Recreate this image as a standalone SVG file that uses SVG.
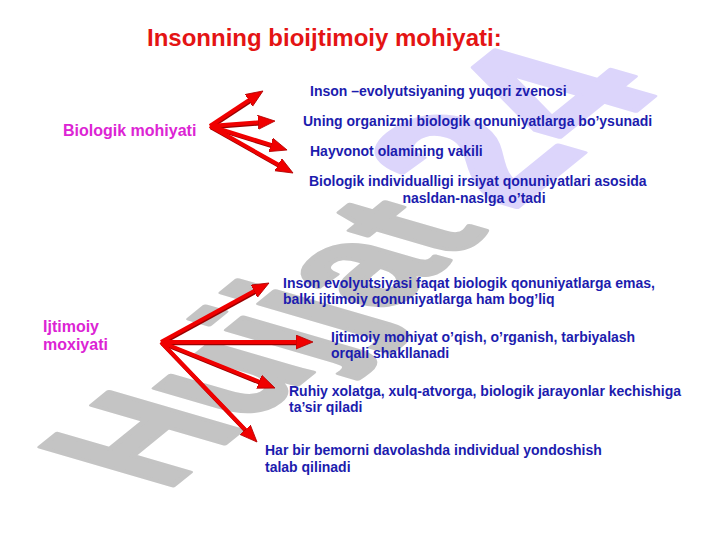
<svg xmlns="http://www.w3.org/2000/svg" width="720" height="540" viewBox="0 0 720 540">
<style>
.t{font-family:"Liberation Sans",Arial,sans-serif;font-weight:bold}
.title{font-size:24px;fill:#e41414}
.pink{font-size:16px;fill:#dc24d4}
.blue{font-size:14px;fill:#1c1cae}
.arr{stroke:#f00000;stroke-width:4;fill:none;marker-end:url(#ah)}
.sh{stroke:#9a0000;stroke-width:4;fill:none}
.wm{font-family:"Liberation Sans",Arial,sans-serif;font-weight:bold;font-size:100px;stroke-width:3;stroke-linejoin:round}
.wg{fill:#c4c4c4;stroke:#c4c4c4}
.wl{fill:#dcd5fb;stroke:#dcd5fb;font-size:120px}
</style>
<defs>
<marker id="ah" markerUnits="userSpaceOnUse" markerWidth="20" markerHeight="16" refX="7" refY="7" orient="auto">
<path d="M0,0 L17,7 L0,14 Z" fill="#f00000" stroke="#b00000" stroke-width="0.8"/>
</marker>
</defs>
<rect width="720" height="540" fill="#ffffff"/>
<g id="watermark" transform="matrix(1.166,-0.944,1.92,0.56,165,492)">
<text class="wm" x="0" y="0"><tspan class="wg">Hujjat </tspan><tspan class="wl" dx="-8">24</tspan></text>
</g>
<text class="t title" x="147" y="46">Insonning bioijtimoiy mohiyati:</text>
<g id="connectors">
<g transform="translate(0.8,1.2)">
<line class="sh" x1="210" y1="126" x2="254.6" y2="96.5"/>
<line class="sh" x1="210" y1="126" x2="265" y2="121.8"/>
<line class="sh" x1="210" y1="126" x2="277.5" y2="147"/>
<line class="sh" x1="210" y1="126" x2="284.3" y2="168.1"/>
<line class="sh" x1="161" y1="342" x2="260.2" y2="287.8"/>
<line class="sh" x1="161" y1="342" x2="303" y2="342"/>
<line class="sh" x1="161" y1="342" x2="265.7" y2="384.3"/>
<line class="sh" x1="161" y1="342" x2="250.1" y2="434.8"/>
</g>
<line class="arr" x1="210" y1="126" x2="254.6" y2="96.5"/>
<line class="arr" x1="210" y1="126" x2="265" y2="121.8"/>
<line class="arr" x1="210" y1="126" x2="277.5" y2="147"/>
<line class="arr" x1="210" y1="126" x2="284.3" y2="168.1"/>
<line class="arr" x1="161" y1="342" x2="260.2" y2="287.8"/>
<line class="arr" x1="161" y1="342" x2="303" y2="342"/>
<line class="arr" x1="161" y1="342" x2="265.7" y2="384.3"/>
<line class="arr" x1="161" y1="342" x2="250.1" y2="434.8"/>
</g>
<g id="bio">
<text class="t pink" x="63" y="136">Biologik mohiyati</text>
</g>
<g id="bio1"><text class="t blue" x="310" y="96">Inson –evolyutsiyaning yuqori zvenosi</text></g>
<g id="bio2"><text class="t blue" x="303" y="126">Uning organizmi biologik qonuniyatlarga bo’ysunadi</text></g>
<g id="bio3"><text class="t blue" x="310" y="156">Hayvonot olamining vakili</text></g>
<g id="bio4">
<text class="t blue" x="309" y="186">Biologik individualligi irsiyat qonuniyatlari asosida</text>
<text class="t blue" x="474" y="203" text-anchor="middle">nasldan-naslga o’tadi</text>
</g>
<g id="ijt">
<text class="t pink" x="43" y="332">Ijtimoiy</text>
<text class="t pink" x="43" y="350">moxiyati</text>
</g>
<g id="ijt1">
<text class="t blue" x="283" y="288">Inson evolyutsiyasi faqat biologik qonuniyatlarga emas,</text>
<text class="t blue" x="283" y="304">balki ijtimoiy qonuniyatlarga ham bog’liq</text>
</g>
<g id="ijt2">
<text class="t blue" x="331" y="342">Ijtimoiy mohiyat o’qish, o’rganish, tarbiyalash</text>
<text class="t blue" x="331" y="358">orqali shakllanadi</text>
</g>
<g id="ijt3">
<text class="t blue" x="289" y="396">Ruhiy xolatga, xulq-atvorga, biologik jarayonlar kechishiga</text>
<text class="t blue" x="289" y="412">ta’sir qiladi</text>
</g>
<g id="ijt4">
<text class="t blue" x="265" y="455">Har bir bemorni davolashda individual yondoshish</text>
<text class="t blue" x="265" y="472">talab qilinadi</text>
</g>
</svg>
